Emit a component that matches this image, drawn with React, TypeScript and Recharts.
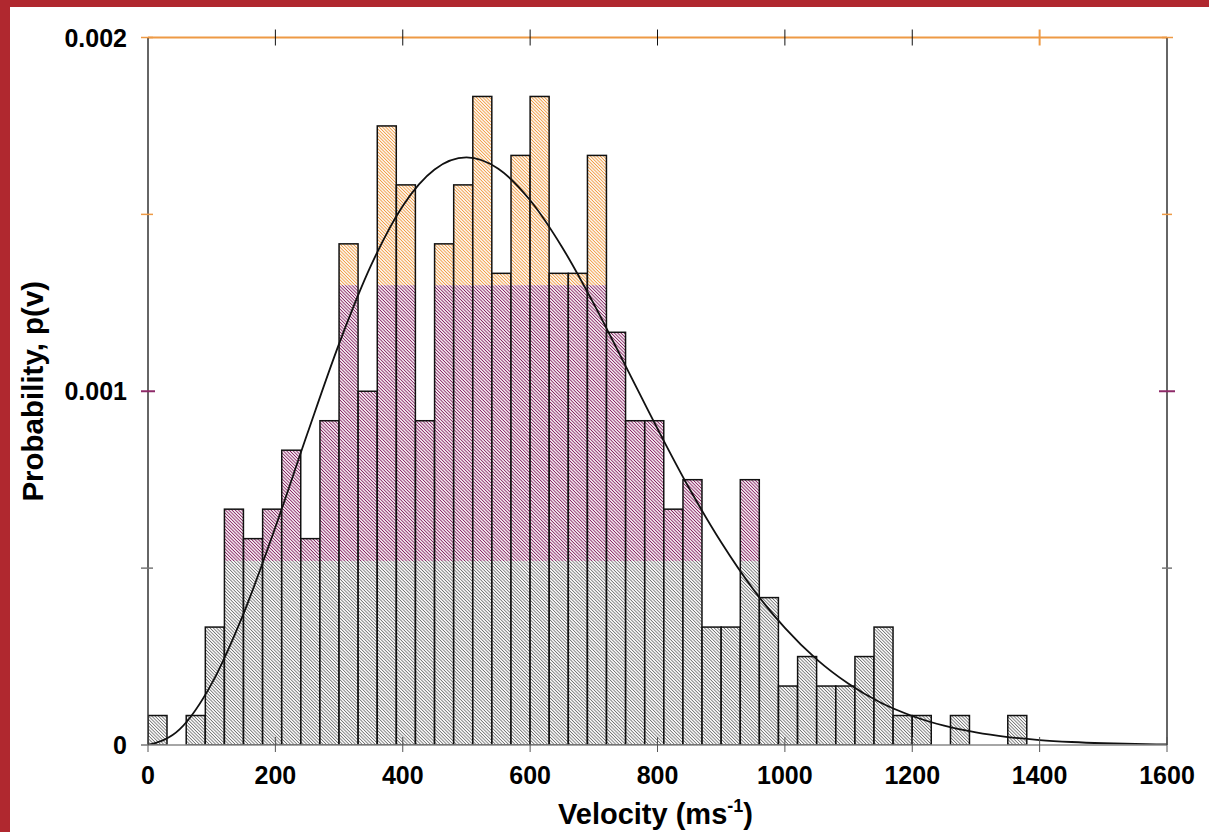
import { ComposedChart, Bar, Line, XAxis, YAxis, Label } from "recharts";

// histogram: bin centres (ms-1) and counts per 30 ms-1 bin
const binCenters = [
  15, 45, 75, 105, 135, 165, 195, 225, 255, 285, 315, 345, 375, 405, 435, 465,
  495, 525, 555, 585, 615, 645, 675, 705, 735, 765, 795, 825, 855, 885, 915,
  945, 975, 1005, 1035, 1065, 1095, 1125, 1155, 1185, 1215, 1245, 1275, 1305,
  1335, 1365,
];
const binCounts = [
  1, 0, 1, 4, 8, 7, 8, 10, 7, 11, 17, 12, 21, 19, 11, 17, 19, 22, 16, 20, 22,
  16, 16, 20, 14, 11, 11, 8, 9, 4, 4, 9, 5, 2, 3, 2, 2, 3, 4, 1, 1, 0, 1, 0, 0,
  1,
];
const totalCount = 400;
const binWidth = 30;

// fitted curve
const curveV = [
  0, 50, 100, 150, 200, 250, 300, 350, 400, 450, 500, 550, 600, 650, 700, 750,
  800, 850, 900, 950, 1000, 1050, 1100, 1150, 1200, 1250, 1300, 1350, 1400,
  1450, 1500, 1550, 1600,
];
const curveP = [
  0, 0.0000447, 0.0001735, 0.0003714, 0.0006156, 0.000879, 0.001134, 0.001355,
  0.001524, 0.001627, 0.001661, 0.001629, 0.00154, 0.001408, 0.001247,
  0.001071, 0.000894, 0.000725, 0.000573, 0.000441, 0.000331, 0.000242,
  0.000173, 0.00012, 0.000082, 0.0000545, 0.0000354, 0.0000225, 0.0000139,
  0.0000085, 0.000005, 0.0000029, 0.0000017,
];

const xTicks = [0, 200, 400, 600, 800, 1000, 1200, 1400, 1600];
const yTicks = [0, 0.0005, 0.001, 0.0015, 0.002];
const yLabels: Record<number, string> = { 0: "0", 0.001: "0.001", 0.002: "0.002" };

const histData = binCenters.map((v, i) => ({
  v,
  p: binCounts[i] / (totalCount * binWidth),
}));
const curveData = curveV.map((v, i) => ({ v, p: curveP[i] }));

const GRAY_TOP = 0.00052;
const PURPLE_TOP = 0.0013;
const ORANGE = "#ee9a45";
const PURPLE = "#8e2a68";
const FONT = "'Liberation Sans', Arial, sans-serif";

const tickColor = (v: number) =>
  v >= 0.0015 ? ORANGE : v === 0.001 ? PURPLE : "#777";

const HistBar = (props: any) => {
  const { x, y, width, height, payload } = props;
  if (!height || height <= 0 || !payload || !payload.p) return null;
  const bottom = y + height;
  const k = height / payload.p;
  const yGray = Math.max(y, bottom - GRAY_TOP * k);
  const yPurple = Math.max(y, bottom - PURPLE_TOP * k);
  return (
    <g>
      <rect x={x} y={yGray} width={width} height={bottom - yGray} fill="url(#hGray)" />
      {yPurple < yGray && (
        <rect x={x} y={yPurple} width={width} height={yGray - yPurple} fill="url(#hPurple)" />
      )}
      {y < yPurple && (
        <rect x={x} y={y} width={width} height={yPurple - y} fill="url(#hOrange)" />
      )}
      <rect x={x} y={y} width={width} height={height} fill="none" stroke="#111" strokeWidth={1.5} />
    </g>
  );
};

const BottomTick = ({ x, y, payload }: any) => (
  <g>
    <line x1={x} x2={x} y1={y - 8} y2={y + 7} stroke="#555" strokeWidth={1} />
    <text x={x} y={y + 39} textAnchor="middle" fontSize={25} fontWeight="bold" fontFamily={FONT} fill="#000">
      {payload.value}
    </text>
  </g>
);

const TopTick = ({ x, y, payload }: any) =>
  payload.value === 0 || payload.value === 1600 ? null : (
    <line
      x1={x}
      x2={x}
      y1={y - 8}
      y2={y + 8}
      stroke={payload.value === 1400 ? ORANGE : "#111"}
      strokeWidth={payload.value === 1400 ? 2 : 1}
    />
  );

const LeftTick = ({ x, y, payload }: any) => {
  const v = payload.value;
  const len = v === 0.001 ? 7 : 5;
  return (
    <g>
      <line x1={x - 7} x2={x + (v === 0 ? 0 : len)} y1={y} y2={y} stroke={tickColor(v)} strokeWidth={v === 0.001 ? 2 : 1.5} />
      {yLabels[v] !== undefined && (
        <text x={x - 21} y={y + 9} textAnchor="end" fontSize={25} fontWeight="bold" fontFamily={FONT} fill="#000">
          {yLabels[v]}
        </text>
      )}
    </g>
  );
};

const RightTick = ({ x, y, payload }: any) => {
  const v = payload.value;
  const len = v === 0.001 ? 8 : 5;
  return (
    <line x1={x - len} x2={x + (v === 0.002 ? 6 : len)} y1={y} y2={y} stroke={tickColor(v)} strokeWidth={v === 0.001 ? 2 : 1.5} />
  );
};

export default function App() {
  return (
    <div style={{ position: "absolute", left: 0, top: 0, width: 1209, height: 832, background: "#fff", overflow: "hidden" }}>
      <div style={{ position: "absolute", left: 0, top: 0, width: 10, height: 832, background: "#b0282f" }} />
      <div style={{ position: "absolute", left: 0, top: 0, width: 1209, height: 7, background: "#b0282f" }} />
      <div style={{ position: "absolute", left: 0, top: 0 }}>
        <ComposedChart
          width={1209}
          height={832}
          data={histData}
          margin={{ top: 0, right: 0, bottom: 0, left: 0 }}
          barCategoryGap={0}
          barGap={0}
        >
          <defs>
            <pattern id="hGray" patternUnits="userSpaceOnUse" width={2.3} height={2.3} patternTransform="rotate(-45)">
              <rect width={2.3} height={2.3} fill="#fff" />
              <line x1={1.15} y1={0} x2={1.15} y2={2.3} stroke="#707070" strokeWidth={0.85} />
            </pattern>
            <pattern id="hPurple" patternUnits="userSpaceOnUse" width={2.3} height={2.3} patternTransform="rotate(-45)">
              <rect width={2.3} height={2.3} fill="#fff" />
              <line x1={1.15} y1={0} x2={1.15} y2={2.3} stroke="#862060" strokeWidth={0.95} />
            </pattern>
            <pattern id="hOrange" patternUnits="userSpaceOnUse" width={2.3} height={2.3} patternTransform="rotate(-45)">
              <rect width={2.3} height={2.3} fill="#fff" />
              <line x1={1.15} y1={0} x2={1.15} y2={2.3} stroke="#f09a40" strokeWidth={0.95} />
            </pattern>
          </defs>
          <XAxis
            dataKey="v"
            type="number"
            domain={[0, 1600]}
            ticks={xTicks}
            interval={0}
            height={87}
            tickSize={0}
            tickMargin={0}
            tickLine={false}
            tick={<BottomTick />}
            axisLine={{ stroke: "#888", strokeWidth: 1.5 }}
            allowDataOverflow
          >
            <Label
              content={({ viewBox }: any) => (
                <text
                  x={viewBox.x + viewBox.width / 2 - 2}
                  y={viewBox.y + 79}
                  textAnchor="middle"
                  fontSize={29}
                  fontWeight="bold"
                  fontFamily={FONT}
                  fill="#000"
                >
                  Velocity (ms
                  <tspan fontSize={18} dy={-12}>-1</tspan>
                  <tspan dy={12}>)</tspan>
                </text>
              )}
            />
          </XAxis>
          <XAxis
            xAxisId="top"
            dataKey="v"
            type="number"
            orientation="top"
            domain={[0, 1600]}
            ticks={xTicks}
            interval={0}
            height={37.5}
            tickSize={0}
            tickMargin={0}
            tickLine={false}
            tick={<TopTick />}
            axisLine={{ stroke: ORANGE, strokeWidth: 2 }}
            allowDataOverflow
          />
          <YAxis
            type="number"
            domain={[0, 0.002]}
            ticks={yTicks}
            interval={0}
            width={148}
            tickSize={0}
            tickMargin={0}
            tickLine={false}
            tick={<LeftTick />}
            axisLine={{ stroke: "#333", strokeWidth: 1.5 }}
            allowDataOverflow
          >
            <Label
              content={({ viewBox }: any) => {
                const cy = viewBox.y + viewBox.height / 2;
                return (
                  <text
                    x={43}
                    y={cy}
                    transform={`rotate(-90, 43, ${cy})`}
                    textAnchor="middle"
                    fontSize={29.5}
                    fontWeight="bold"
                    fontFamily={FONT}
                    fill="#000"
                  >
                    Probability, p(v)
                  </text>
                );
              }}
            />
          </YAxis>
          <YAxis
            yAxisId="right"
            orientation="right"
            type="number"
            domain={[0, 0.002]}
            ticks={[0.0005, 0.001, 0.0015, 0.002]}
            interval={0}
            width={42}
            tickSize={0}
            tickMargin={0}
            tickLine={false}
            tick={<RightTick />}
            axisLine={{ stroke: "#333", strokeWidth: 1.5 }}
            allowDataOverflow
          />
          <Bar dataKey="p" shape={(p: any) => <HistBar {...p} />} isAnimationActive={false} />
          <Line
            data={curveData}
            xAxisId="top"
            yAxisId="right"
            dataKey="p"
            type="monotone"
            stroke="#111"
            strokeWidth={1.8}
            dot={false}
            activeDot={false}
            isAnimationActive={false}
          />
        </ComposedChart>
      </div>
    </div>
  );
}
